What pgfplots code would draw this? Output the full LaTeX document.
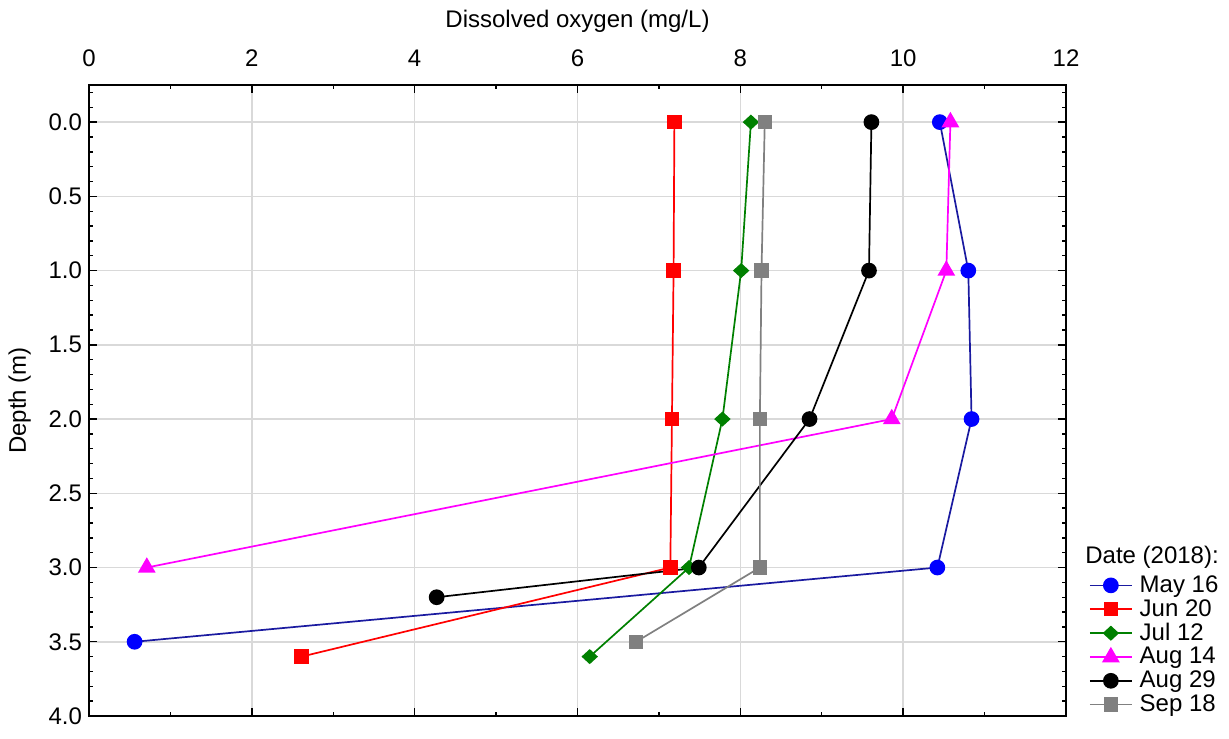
\documentclass[border=0pt]{standalone}
\usepackage{fontspec}
\setmainfont{Liberation Sans}
\usepackage{pgfplots}
\pgfplotsset{compat=1.18}
\definecolor{gridgray}{HTML}{D9D9D9}
\definecolor{navyline}{HTML}{1A1AA0}
\definecolor{mblue}{HTML}{0000FF}
\definecolor{mred}{HTML}{FF0000}
\definecolor{mgreen}{HTML}{008000}
\definecolor{mmag}{HTML}{FF00FF}
\definecolor{mgray}{HTML}{808080}
\begin{document}
\begin{tikzpicture}[font=\fontsize{12}{14}\selectfont]
\begin{axis}[
  at={(0,0)}, anchor=south west,
  scale only axis,
  width=488.5pt, height=315.5pt,
  xmin=0, xmax=12, ymin=-0.25, ymax=4,
  y dir=reverse,
  xtick={0,2,...,12},
  minor xtick={1,3,...,11},
  ytick={0,0.5,...,4},
  minor ytick={0.1,0.2,0.3,0.4,0.6,0.7,0.8,0.9,1.1,1.2,1.3,1.4,1.6,1.7,1.8,1.9,2.1,2.2,2.3,2.4,2.6,2.7,2.8,2.9,3.1,3.2,3.3,3.4,3.6,3.7,3.8,3.9,-0.1,-0.2},
  xticklabel pos=upper,
  xlabel={Dissolved oxygen (mg/L)},
  ylabel={Depth (m)},
  yticklabel style={/pgf/number format/.cd, fixed, fixed zerofill, precision=1},
  xticklabel style={yshift=5.5pt},
  /pgf/number format/assume math mode=true,
  grid=major,
  major grid style={gridgray, line width=0.75pt},
  axis line style={line width=1.2pt},
  tick style={black, line width=0.7pt},
  major tick length=4pt,
  minor tick length=2.2pt,
  tick align=inside,
  xlabel style={yshift=2pt},
  ylabel style={yshift=2pt},
  every axis plot/.append style={line width=0.85pt},
  legend style={draw=none, fill=none, at={(axis description cs:1.017,0.236)}, anchor=north west,
    row sep=-2pt, column sep=1.5pt, font=\fontsize{12}{14}\selectfont},
  legend cell align=left,
  legend image code/.code={\draw[mark repeat=2,mark phase=2] plot coordinates {(0pt,0pt)(10.5pt,0pt)(21pt,0pt)};},
  clip=false,
]
\addplot[color=navyline, mark=*, mark size=3.5pt, mark options={fill=mblue, draw=mblue}]
  coordinates {(10.45,0)(10.80,1)(10.84,2)(10.42,3)(0.56,3.5)};
\addlegendentry{May 16}
\addplot[color=mred, mark=square*, mark size=3.2pt, mark options={fill=mred, draw=mred}]
  coordinates {(7.19,0)(7.18,1)(7.16,2)(7.14,3)(2.61,3.6)};
\addlegendentry{Jun 20}
\addplot[color=mgreen, mark=diamond*, mark size=3.2pt, mark options={fill=mgreen, draw=mgreen, xscale=1.45}]
  coordinates {(8.13,0)(8.01,1)(7.78,2)(7.37,3)(6.15,3.6)};
\addlegendentry{Jul 12}
\addplot[color=mmag, mark=triangle*, mark size=4.3pt, mark options={fill=mmag, draw=mmag}]
  coordinates {(10.58,0)(10.53,1)(9.86,2)(0.71,3)};
\addlegendentry{Aug 14}
\addplot[color=black, mark=*, mark size=3.5pt, mark options={fill=black, draw=black}]
  coordinates {(9.61,0)(9.58,1)(8.85,2)(7.49,3)(4.27,3.2)};
\addlegendentry{Aug 29}
\addplot[color=mgray, mark=square*, mark size=3.2pt, mark options={fill=mgray, draw=mgray}]
  coordinates {(8.30,0)(8.26,1)(8.24,2)(8.24,3)(6.72,3.5)};
\addlegendentry{Sep 18}
\node[anchor=west, inner sep=0pt] at (axis description cs:1.0194,0.252) {Date (2018):};
\end{axis}
\pgfresetboundingbox
\path[use as bounding box] (-44.5pt,-11pt) rectangle (570pt,358pt);
\end{tikzpicture}
\end{document}
